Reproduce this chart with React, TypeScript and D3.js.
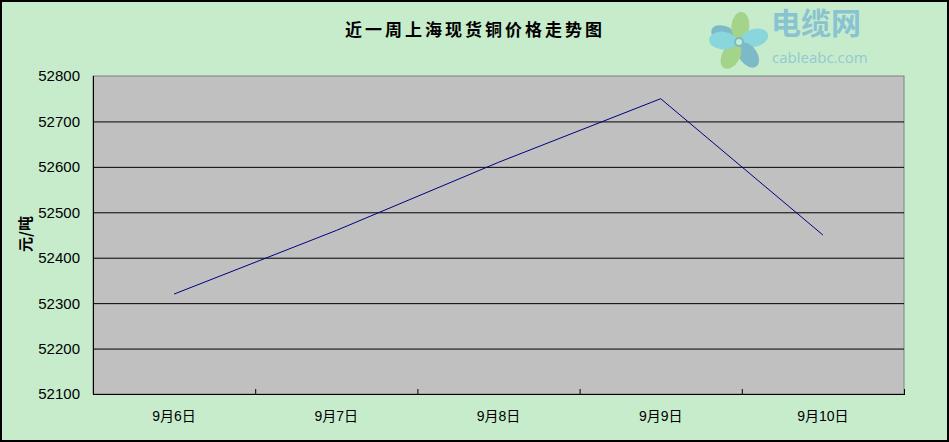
import React from "react";
import * as d3 from "d3";

const categories = ["9月6日", "9月7日", "9月8日", "9月9日", "9月10日"];
const prices = [52320, 52460, 52610, 52750, 52450];
const yTicks = [52100, 52200, 52300, 52400, 52500, 52600, 52700, 52800];
const title = "近一周上海现货铜价格走势图";
const yTitle = "元/吨";

const W = 949;
const H = 442;
const plot = { left: 93, right: 904, top: 76, bottom: 394 };

export default function App() {
  const x = d3
    .scaleBand<string>()
    .domain(categories)
    .range([plot.left, plot.right])
    .paddingInner(0)
    .paddingOuter(0);
  const y = d3.scaleLinear().domain([52100, 52800]).range([plot.bottom, plot.top]);
  const line = d3
    .line<number>()
    .x((_, i) => (x(categories[i]) as number) + x.bandwidth() / 2)
    .y((d) => y(d));

  const boundaries = categories.map((c) => x(c) as number).concat([plot.right]);
  const font = "'Liberation Sans', 'Noto Sans CJK SC', sans-serif";

  return (
    <svg
      width={W}
      height={H}
      style={{ position: "absolute", left: 0, top: 0, display: "block" }}
      fontFamily={font}
    >
      <rect x={0} y={0} width={W} height={H} fill="#c7eccc" />
      <rect x={1} y={1} width={W - 2} height={H - 2} fill="none" stroke="#000" strokeWidth={2} />

      {/* logo */}
      <g opacity={0.85}>
        {[
          { a: -155, c: "#6fb2c8" },
          { a: -85, c: "#9fd07f" },
          { a: -15, c: "#7fd3df" },
          { a: 55, c: "#6fb2c8" },
          { a: 120, c: "#9fd07f" },
          { a: 185, c: "#7fd3df" },
        ].map((p, i) => (
          <ellipse
            key={i}
            cx={739}
            cy={42}
            rx={14}
            ry={9}
            fill={p.c}
            transform={`rotate(${p.a} 739 42) translate(16 0)`}
          />
        ))}
        <circle cx={739} cy={42} r={4} fill="#c7eccc" stroke="#6fb2c8" strokeWidth={2} />
        <text x={771} y={34} fontSize={30} fontWeight="bold" fill="#7fbcd3" fontFamily="'Noto Sans CJK SC', sans-serif">
          电缆网
        </text>
        <text x={772} y={63} fontSize={15} fill="#8cc3d6" fontFamily="'Open Sans', sans-serif">
          cableabc.com
        </text>
      </g>

      <text
        x={475}
        y={36}
        textAnchor="middle"
        fontSize={17}
        fontWeight="bold"
        letterSpacing={3}
        fontFamily="'Noto Sans CJK SC', sans-serif"
        fill="#000"
      >
        {title}
      </text>

      {/* plot area */}
      <rect
        x={plot.left}
        y={plot.top}
        width={plot.right - plot.left}
        height={plot.bottom - plot.top}
        fill="#c0c0c0"
        stroke="#808080"
        strokeWidth={1}
      />
      {yTicks.map((t) => (
        <g key={t}>
          {t !== 52100 && t !== 52800 && (
            <line x1={plot.left} x2={plot.right} y1={y(t) + 0.5} y2={y(t) + 0.5} stroke="#000" strokeWidth={1} />
          )}
          <text x={80} y={y(t)} dy="0.36em" textAnchor="end" fontSize={15} fill="#000">
            {t}
          </text>
        </g>
      ))}
      <line x1={plot.left + 0.5} x2={plot.left + 0.5} y1={plot.top} y2={plot.bottom} stroke="#000" />
      <line x1={plot.left} x2={plot.right + 1} y1={plot.bottom + 0.5} y2={plot.bottom + 0.5} stroke="#000" />
      {boundaries.map((b, i) => (
        <line key={i} x1={b + 0.5} x2={b + 0.5} y1={plot.bottom - 5} y2={plot.bottom} stroke="#000" />
      ))}
      {categories.map((c) => (
        <text
          key={c}
          x={(x(c) as number) + x.bandwidth() / 2}
          y={421}
          textAnchor="middle"
          fontSize={14}
          fill="#000"
        >
          {c}
        </text>
      ))}

      <path d={line(prices) || ""} fill="none" stroke="#000080" strokeWidth={1} />

      <text
        transform="translate(31 234) rotate(-90)"
        textAnchor="middle"
        fontSize={15}
        fontWeight="bold"
        fontFamily="'Noto Sans CJK SC', sans-serif"
        fill="#000"
      >
        {yTitle}
      </text>
    </svg>
  );
}
